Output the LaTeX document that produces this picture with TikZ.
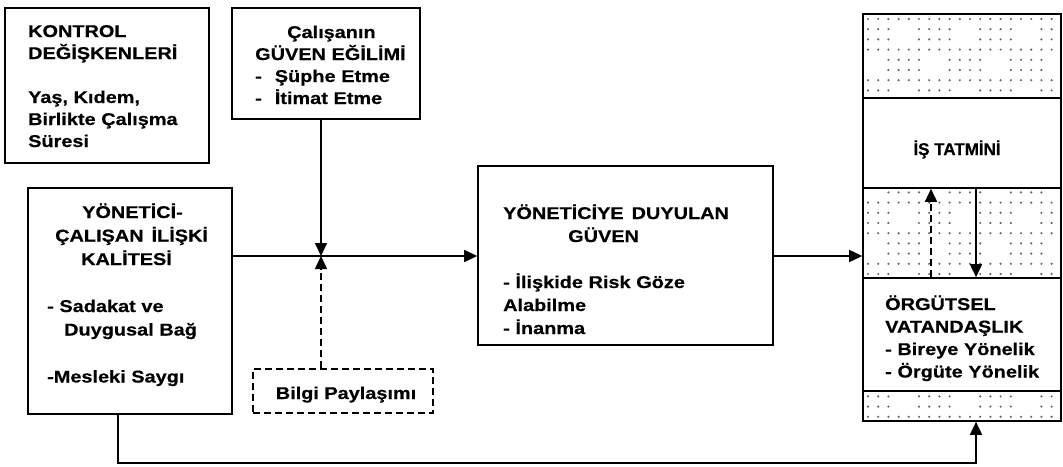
\documentclass[tikz,border=0pt]{standalone}
\usepackage{fontspec}
\setmainfont{Liberation Sans}[FakeStretch=1.17, BoldFeatures={FakeBold=0.5}]
\newfontfamily\narrowsans{Liberation Sans}[BoldFeatures={FakeBold=0.5}]
\usetikzlibrary{arrows.meta}

\begin{document}
\begin{tikzpicture}[x=1pt, y=-1pt,
  box/.style={draw, line width=1.6pt, inner sep=0pt, fill=white},
  dbox/.style={box, dash pattern=on 7pt off 4pt},
  txt/.style={inner sep=0pt, anchor=base west, align=left, text width=#1,
    font=\bfseries\fontsize{17}{22.5}\selectfont},
  ctxt/.style={inner sep=0pt, anchor=base, font=\bfseries\fontsize{17}{22.5}\selectfont},
  link/.style={line width=1.6pt, -{Triangle[length=13pt, width=12pt]}},
  dlink/.style={link, dash pattern=on 7pt off 4pt},
  dotc/.style={fill=black!60}]
\useasboundingbox (0,0) rectangle (1063,466);

% dotted texture of the outcome column
\begin{scope}
  \clip (863,14) rectangle (1061,421);
  \foreach \i in {0,...,19} {
    \foreach \j in {0,...,40} {
      \pgfmathtruncatemacro\ok{or(and(mod(\i+1,6)<4, mod(\j,6)<4), and(mod(\i+4,6)<4, mod(\j+3,6)<4))}
      \ifnum\ok=1 \fill[dotc] (868+10.2*\i, 19+10.2*\j) circle (1.2pt); \fi
    }
  }
\end{scope}

% boxes
\node[box, minimum width=204pt, minimum height=155pt] (ctrl) at (107,85.5) {};
\node[box, minimum width=188pt, minimum height=111pt] (trend) at (326,63.5) {};
\node[box, minimum width=204pt, minimum height=226pt] (lmx) at (130,301) {};
\node[box, minimum width=295pt, minimum height=179pt] (trust) at (625.5,255.5) {};
\node[draw, line width=1.6pt, inner sep=0pt, minimum width=198pt, minimum height=407pt] (col) at (962,217.5) {};
\node[box, minimum width=198pt, minimum height=90pt] (sat) at (962,143) {};
\node[box, minimum width=198pt, minimum height=113pt] (ocb) at (962,334.5) {};
\node[dbox, minimum width=180pt, minimum height=44pt] (info) at (343,391) {};

% texts
\node[txt=170pt, font=\bfseries\fontsize{17}{22}\selectfont] (ctrlt) at (28,37)
  {KONTROL\\DEĞİŞKENLERİ\\[22pt]Yaş, Kıdem,\\Birlikte Çalışma\\Süresi};
\node[txt=160pt, font=\bfseries\fontsize{17}{22}\selectfont] (trendt) at (255,38)
  {\hspace*{32pt}Çalışanın\\GÜVEN EĞİLİMİ\\-\hspace{13pt}Şüphe Etme\\-\hspace{13pt}İtimat Etme};
\node[txt=180pt, font=\bfseries\fontsize{17}{23.5}\selectfont] (lmxt) at (47,218)
  {\hspace*{35pt}YÖNETİCİ-\\\hspace*{8pt}ÇALIŞAN\hspace{8pt}İLİŞKİ\\\hspace*{34pt}KALİTESİ\\[23.5pt]- Sadakat ve\\\hspace*{17pt}Duygusal Bağ\\[23.5pt]-Mesleki Saygı};
\node[txt=260pt, font=\bfseries\fontsize{17}{23}\selectfont] (trustt) at (503,219)
  {YÖNETİCİYE\hspace{8pt}DUYULAN\\\hspace*{65pt}GÜVEN\\[23pt]- İlişkide Risk Göze\\Alabilme\\- İnanma};
\node[ctxt, font=\narrowsans\bfseries\fontsize{17}{22.5}\selectfont] (satt) at (957,155) {İŞ TATMİNİ};
\node[txt=170pt] (ocbt) at (885,310)
  {ÖRGÜTSEL\\VATANDAŞLIK\\- Bireye Yönelik\\- Örgüte Yönelik};
\node[ctxt] (infot) at (346,399) {Bilgi Paylaşımı};

% connectors
\coordinate (j) at (321,256);
\coordinate (up) at (931,0);
\coordinate (dn) at (976,0);
\coordinate (fbl) at (118,463);
\coordinate (fbr) at (976,463);

\draw[line width=1.6pt] (lmx.east |- j) -- (j);
\draw[link] (j) -- (trust.west |- j);
\draw[link] (trend.south -| j) -- (j);
\draw[dlink] (info.north -| j) -- (j);
\draw[link] (trust.east |- j) -- (col.west |- j);
\draw[dlink] (ocb.north -| up) -- (sat.south -| up);
\draw[link] (sat.south -| dn) -- (ocb.north -| dn);
\draw[link] (lmx.south -| fbl) -- (fbl) -- (fbr) -- (col.south -| fbr);
\end{tikzpicture}
\end{document}
